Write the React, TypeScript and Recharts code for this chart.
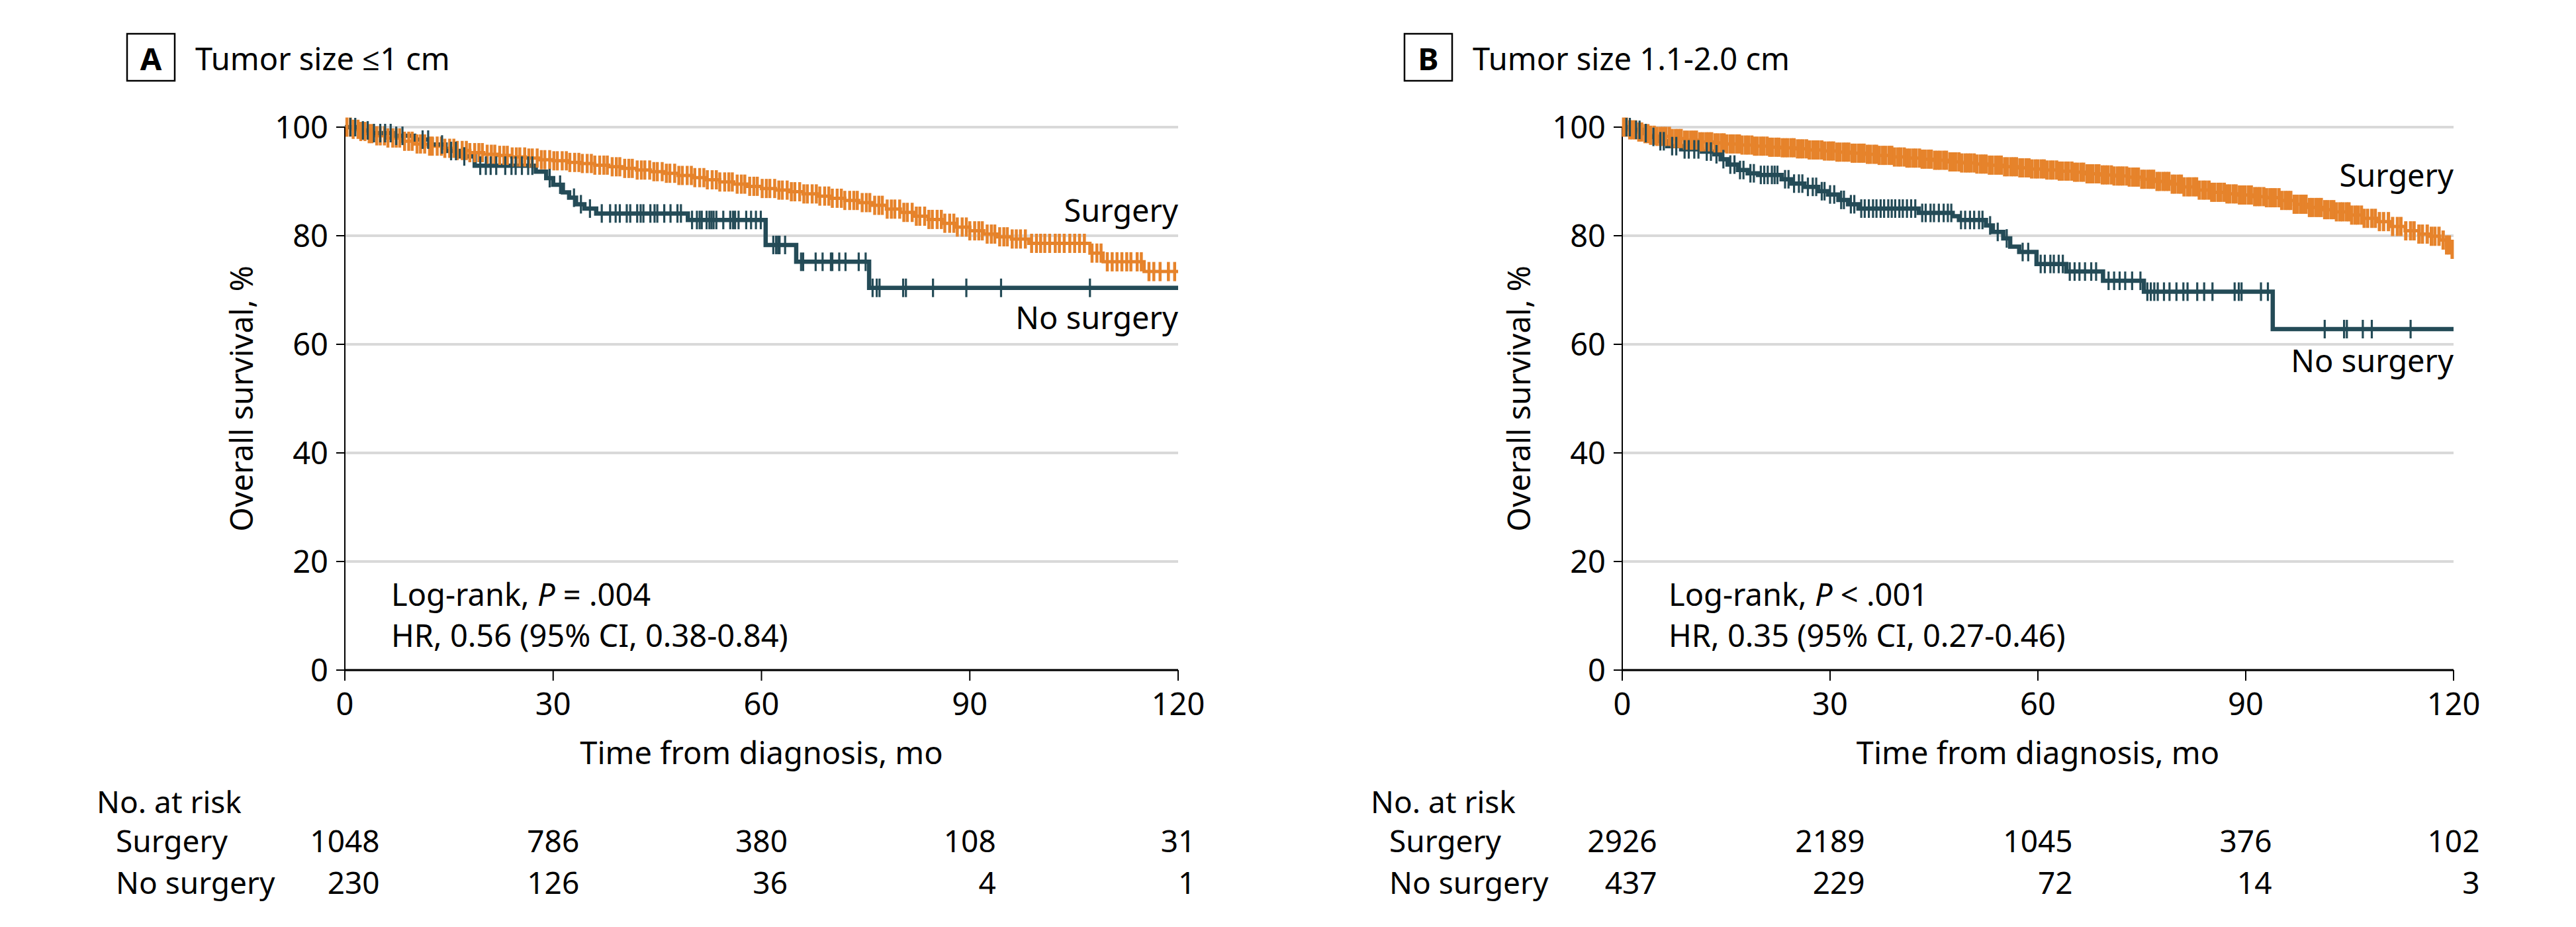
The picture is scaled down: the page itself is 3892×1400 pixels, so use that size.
import { LineChart, Line, XAxis, YAxis, CartesianGrid } from 'recharts';

const FONT = "'Noto Sans', 'Open Sans', sans-serif";
const ORANGE = '#E6832B';
const NAVY = '#244B57';
const GRID = '#D9D9D9';

const TICKS_X = [0, 30, 60, 90, 120];
const TICKS_Y = [0, 20, 40, 60, 80, 100];

type Step = [number, number];

// ---- Panel A: tumor size <=1 cm ----
const surgeryStepsA: Step[] = [
  [0, 100], [1, 99.6], [2, 99.2], [3, 98.8], [4.5, 98.4], [6, 98.0], [8, 97.4], [10, 96.9], [12, 96.5],
  [14, 96.1], [16, 95.7], [18, 95.3], [20, 95.0], [22, 94.8], [24, 94.5], [26, 94.3], [28, 94.0],
  [30, 93.8], [32, 93.5], [34, 93.3], [36, 93.0], [38, 92.7], [40, 92.4], [42, 92.1], [44, 91.8],
  [46, 91.5], [48, 91.1], [50, 90.7], [52, 90.3], [54, 89.9], [56, 89.5], [58, 89.1], [60, 88.7],
  [62, 88.4], [64, 88.1], [66, 87.7], [68, 87.3], [70, 86.9], [72, 86.5], [74, 86.1], [76, 85.6],
  [78, 84.9], [80, 84.3], [82, 83.6], [84, 83.0], [86, 82.3], [88, 81.6], [90, 80.9], [92, 80.3],
  [94, 79.8], [96, 79.4], [98.5, 78.6], [107.3, 76.8], [109.2, 75.2], [115.1, 73.4], [120, 73.4],
];
const surgeryCensorA = [
  0.3, 0.8, 1.2, 1.9, 2.3, 2.9, 3.5, 3.9, 4.6, 5.1, 5.7, 6.2, 6.9, 7.4, 7.9, 8.6, 9.2, 9.7, 10.4, 10.9,
  11.5, 12.2, 12.6, 13.3, 13.9, 14.4, 15.1, 15.7, 16.2, 16.9, 17.5, 18.0, 18.7, 19.3, 19.8, 20.5, 21.1,
  21.6, 22.3, 22.9, 23.4, 24.1, 24.7, 25.2, 25.9, 26.5, 27.0, 27.7, 28.3, 28.8, 29.5, 30.1, 30.6, 31.3,
  31.9, 32.4, 33.1, 33.7, 34.2, 34.9, 35.5, 36.0, 36.7, 37.3, 37.8, 38.5, 39.1, 39.6, 40.3, 40.9, 41.4,
  42.1, 42.7, 43.2, 43.9, 44.5, 45.0, 45.7, 46.3, 46.8, 47.5, 48.1, 48.6, 49.3, 49.9, 50.4, 51.1, 51.7,
  52.2, 52.9, 53.5, 54.0, 54.7, 55.3, 55.8, 56.5, 57.1, 57.6, 58.3, 58.9, 59.4, 60.1, 60.7, 61.2, 61.9,
  62.5, 63.0, 63.7, 64.3, 64.8, 65.5, 66.1, 66.6, 67.3, 67.9, 68.4, 69.1, 69.7, 70.2, 70.9, 71.5, 72.0,
  72.7, 73.3, 73.8, 74.5, 75.1, 75.6, 76.3, 76.9, 77.4, 78.1, 78.7, 79.2, 79.9, 80.5, 81.0, 81.7, 82.3,
  82.8, 83.5, 84.1, 84.6, 85.3, 85.9, 86.4, 87.1, 87.7, 88.2, 88.9, 89.5, 90.0, 90.7, 91.3, 91.8, 92.5,
  93.1, 93.6, 94.3, 94.9, 95.4, 96.1, 96.7, 97.3, 98.0, 98.9, 99.6, 100.2, 100.8, 101.5, 102.3, 102.9,
  103.6, 104.4, 105.1, 105.8, 106.5, 107.6, 108.3, 108.9, 109.8, 110.5, 111.2, 111.9, 112.6, 113.2,
  114.1, 114.7, 115.8, 116.5, 117.4, 118.6, 119.5,
];
const noSurgeryStepsA: Step[] = [
  [0, 100], [2, 99.4], [4, 98.9], [7, 98.4], [10, 97.7], [12.5, 96.8], [14.5, 95.6], [16.5, 94.6],
  [18.7, 92.9], [27.5, 91.8], [29, 90.6], [30, 89.4], [31.4, 88.0], [32.3, 87.0], [33.3, 85.8],
  [34.5, 85.0], [36.2, 84.1], [49.4, 82.9], [60.6, 78.3], [65, 75.2], [75.5, 70.4], [120, 70.4],
];
const noSurgeryCensorA = [
  0.8, 1.5, 2.6, 3.3, 4.2, 5.1, 5.8, 6.6, 7.4, 8.3, 11.2, 12.0, 14.0, 15.3, 16.0, 17.2, 19.5, 20.3,
  21.0, 21.8, 23.1, 24.0, 24.6, 25.5, 26.4, 27.0, 29.5, 31.0, 33.0, 34.0, 35.3, 37.0, 38.2, 39.0, 39.6,
  40.6, 41.1, 42.1, 42.6, 43.0, 44.0, 44.6, 45.0, 46.0, 46.9, 47.9, 48.4, 50.0, 50.7, 51.1, 51.4, 52.1,
  52.5, 52.8, 53.1, 53.5, 54.5, 55.5, 55.9, 56.2, 56.7, 57.8, 58.5, 59.2, 59.9, 61.7, 62.1, 62.4, 62.6,
  63.4, 65.7, 66.0, 67.8, 68.8, 70.0, 70.2, 71.2, 72.1, 74.0, 75.0, 76.0, 76.6, 77.0, 80.4, 80.8, 84.7,
  89.5, 94.5, 107.3,
];
const riskSurgeryA = [1048, 786, 380, 108, 31];
const riskNoSurgeryA = [230, 126, 36, 4, 1];

// ---- Panel B: tumor size 1.1-2.0 cm ----
const surgeryStepsB: Step[] = [
  [0, 100], [1, 99.5], [2, 99.1], [3, 98.8], [4, 98.5], [5, 98.3], [7, 97.9], [9, 97.6], [11, 97.3],
  [13, 97.1], [15, 96.9], [17, 96.7], [19, 96.5], [21, 96.3], [23, 96.2], [25, 96.0], [27, 95.8],
  [29, 95.6], [31, 95.4], [33, 95.2], [35, 95.0], [37, 94.8], [39, 94.5], [41, 94.3], [43, 94.1],
  [45, 93.9], [47, 93.6], [49, 93.4], [51, 93.2], [53, 93.0], [55, 92.7], [57, 92.5], [59, 92.3],
  [61, 92.1], [63, 91.9], [65, 91.7], [67, 91.4], [69, 91.2], [71, 91.0], [73, 90.8], [75, 90.4],
  [77, 90.0], [79, 89.5], [81, 89.0], [83, 88.4], [85, 88.0], [87, 87.7], [89, 87.5], [91, 87.2],
  [93, 87.0], [95, 86.5], [97, 85.8], [99, 85.2], [101, 84.8], [103, 84.4], [105, 83.8], [107, 83.2],
  [109, 82.6], [111, 81.7], [113, 80.9], [115, 80.3], [116.5, 79.9], [118, 79.2], [119, 78.3],
  [119.6, 77.5], [120, 77.5],
];
const surgeryCensorB = [
  0.2, 0.6, 1.1, 1.5, 1.9, 2.4, 2.8, 3.3, 3.7, 4.1, 4.6, 5.0, 5.5, 5.9, 6.3, 6.8, 7.2, 7.7, 8.1, 8.5,
  9.0, 9.4, 9.9, 10.3, 10.7, 11.2, 11.6, 12.1, 12.5, 12.9, 13.4, 13.8, 14.3, 14.7, 15.1, 15.6, 16.0,
  16.5, 16.9, 17.3, 17.8, 18.2, 18.7, 19.1, 19.5, 20.0, 20.4, 20.9, 21.3, 21.7, 22.2, 22.6, 23.1, 23.5,
  23.9, 24.4, 24.8, 25.3, 25.7, 26.1, 26.6, 27.0, 27.5, 27.9, 28.3, 28.8, 29.2, 29.7, 30.1, 30.5, 31.0,
  31.4, 31.9, 32.3, 32.7, 33.2, 33.6, 34.1, 34.5, 34.9, 35.4, 35.8, 36.3, 36.7, 37.1, 37.6, 38.0, 38.5,
  38.9, 39.3, 39.8, 40.2, 40.7, 41.1, 41.5, 42.0, 42.4, 42.9, 43.3, 43.7, 44.2, 44.6, 45.1, 45.5, 45.9,
  46.4, 46.8, 47.3, 47.7, 48.1, 48.6, 49.0, 49.5, 49.9, 50.3, 50.8, 51.2, 51.7, 52.1, 52.5, 53.0, 53.4,
  53.9, 54.3, 54.7, 55.2, 55.6, 56.1, 56.5, 56.9, 57.4, 57.8, 58.3, 58.7, 59.1, 59.6, 60.0, 60.5, 60.9,
  61.3, 61.8, 62.2, 62.7, 63.1, 63.5, 64.0, 64.4, 64.9, 65.3, 65.7, 66.2, 66.6, 67.1, 67.5, 67.9, 68.4,
  68.8, 69.3, 69.7, 70.1, 70.6, 71.0, 71.5, 71.9, 72.3, 72.8, 73.2, 73.7, 74.1, 74.5, 75.0, 75.4, 75.9,
  76.3, 76.7, 77.2, 77.6, 78.1, 78.5, 78.9, 79.4, 79.8, 80.3, 80.7, 81.1, 81.6, 82.0, 82.5, 82.9, 83.3,
  83.8, 84.2, 84.7, 85.1, 85.5, 86.0, 86.4, 86.9, 87.3, 87.7, 88.2, 88.6, 89.1, 89.5, 89.9, 90.4, 90.8,
  91.3, 91.7, 92.1, 92.6, 93.0, 93.5, 93.9, 94.3, 94.8, 95.2, 95.7, 96.1, 96.5, 97.0, 97.4, 97.9, 98.3,
  98.7, 99.2, 99.6, 100.1, 100.5, 100.9, 101.4, 101.8, 102.3, 102.7, 103.1, 103.6, 104.0, 104.5, 104.9,
  105.3, 105.8, 106.2, 106.7, 107.1, 107.6, 108.2, 108.7, 109.3, 109.9, 110.6, 111.2, 111.9, 112.4,
  113.1, 113.8, 114.3, 115.0, 115.5, 116.2, 116.8, 117.3, 117.9, 118.5, 119.0, 119.4, 119.8,
];
const noSurgeryStepsB: Step[] = [
  [0, 100], [1.5, 99.5], [3, 98.9], [4, 98.2], [5, 97.4], [6.5, 96.5], [8.5, 95.9], [11.5, 95.5],
  [13.3, 95.0], [14.2, 94.1], [15.2, 93.1], [16.7, 92.1], [18.1, 91.5], [19.6, 91.2], [23, 90.4],
  [24.4, 89.6], [26.3, 89.0], [28.3, 88.2], [29.7, 87.6], [31.2, 86.6], [32.6, 85.8], [34.1, 85.0],
  [42.8, 84.2], [47.7, 83.6], [48.6, 82.9], [52.5, 81.9], [53.5, 80.7], [55, 79.5], [56, 78.0],
  [57.3, 77.0], [59.8, 74.8], [64.1, 73.4], [69.4, 71.7], [75.3, 69.7], [93.9, 62.8], [120, 62.8],
];
const noSurgeryCensorB = [
  0.6, 1.1, 2.0, 2.5, 3.4, 4.5, 5.5, 6.0, 7.2, 7.8, 9.0, 9.6, 10.4, 11.0, 12.2, 12.8, 13.6, 14.6, 15.6,
  16.2, 17.0, 17.5, 18.5, 19.0, 20.0, 20.5, 21.0, 21.6, 22.0, 22.4, 23.5, 24.0, 24.8, 25.5, 26.0, 26.8,
  27.5, 28.0, 28.8, 29.2, 30.0, 30.6, 31.6, 32.0, 33.0, 33.5, 34.5, 35.0, 35.6, 36.2, 36.7, 37.3, 37.8,
  38.4, 38.9, 39.4, 40.0, 40.5, 41.1, 41.7, 42.3, 43.3, 43.8, 44.5, 45.0, 45.7, 46.4, 47.0, 47.5, 48.9,
  49.5, 50.2, 50.8, 51.5, 52.0, 53.1, 54.2, 55.5, 57.8, 58.6, 60.4, 61.0, 61.8, 62.3, 63.0, 63.6, 64.6,
  65.3, 66.0, 66.8, 67.7, 68.4, 70.2, 71.0, 71.8, 72.6, 73.6, 74.8, 75.8, 76.3, 76.8, 77.3, 78.2, 79.0,
  80.0, 81.0, 81.6, 83.0, 84.0, 85.2, 88.4, 89.0, 89.4, 92.2, 93.2, 101.4, 104.2, 104.6, 106.9, 108.2,
  113.8,
];
const riskSurgeryB = [2926, 2189, 1045, 376, 102];
const riskNoSurgeryB = [437, 229, 72, 14, 3];

// ---- layout ----
const CHART_W = 1946;
const CHART_H = 1400;
const PLOT_TOP = 192;
const PLOT_BOTTOM = 1012;
const Y_AXIS_W = 120;
const X_AXIS_H = 60;
const FS = 47;
const RISK_FS = 46;

type Pt = { t: number; s: number; c: number };

function buildSeries(steps: Step[], censored: number[]): Pt[] {
  const levelAt = (t: number) => {
    let s = steps[0][1];
    for (const [st, sv] of steps) {
      if (st <= t) s = sv;
      else break;
    }
    return s;
  };
  const pts: Pt[] = [
    ...steps.map(([t, s]) => ({ t, s, c: 0 })),
    ...censored.map((t) => ({ t, s: levelAt(t), c: 1 })),
  ];
  pts.sort((a, b) => a.t - b.t || a.c - b.c);
  return pts;
}

// vertical tick for each censored patient
const censorDot = (color: string, w: number, h: number) => (props: any) => {
  const { cx, cy, payload, index } = props;
  if (!payload || !payload.c || cx == null || cy == null) return <g key={`d-${index}`} />;
  return (
    <line key={`d-${index}`} x1={cx} x2={cx} y1={cy - h} y2={cy + h} stroke={color} strokeWidth={w} />
  );
};

function XTick(props: any) {
  const { x, y, payload, riskS, riskN } = props;
  const i = TICKS_X.indexOf(payload.value);
  // no-surgery counts are right aligned under the surgery counts
  const half = (String(riskS[i]).length * 0.572 * RISK_FS) / 2;
  return (
    <g>
      <text x={x} y={y + 52} textAnchor="middle" fontSize={FS} fill="#000">{payload.value}</text>
      <text x={x + half} y={y + 259} textAnchor="end" fontSize={RISK_FS} fill="#000">{riskS[i]}</text>
      <text x={x + half} y={y + 322} textAnchor="end" fontSize={RISK_FS} fill="#000">{riskN[i]}</text>
    </g>
  );
}

interface PanelProps {
  chartLeft: number;
  plotLeft: number;
  plotRight: number;
  surgery: Pt[];
  noSurgery: Pt[];
  riskS: number[];
  riskN: number[];
  orangeTickW: number;
}

function KMChart({ chartLeft, plotLeft, plotRight, surgery, noSurgery, riskS, riskN, orangeTickW }: PanelProps) {
  const localLeft = plotLeft - chartLeft;
  const localRight = plotRight - chartLeft;
  return (
    <div style={{ position: 'absolute', left: chartLeft, top: 0 }}>
      <LineChart
        width={CHART_W}
        height={CHART_H}
        margin={{
          top: PLOT_TOP,
          bottom: CHART_H - PLOT_BOTTOM - X_AXIS_H,
          left: localLeft - Y_AXIS_W,
          right: CHART_W - localRight,
        }}
      >
        <CartesianGrid vertical={false} stroke={GRID} strokeWidth={4} />
        <XAxis
          type="number"
          dataKey="t"
          domain={[0, 120]}
          ticks={TICKS_X}
          interval={0}
          height={X_AXIS_H}
          tickSize={16}
          tickMargin={0}
          axisLine={{ stroke: '#000', strokeWidth: 3 }}
          tickLine={{ stroke: '#000', strokeWidth: 2 }}
          tick={(p: any) => <XTick {...p} riskS={riskS} riskN={riskN} />}
        />
        <YAxis
          type="number"
          domain={[0, 100]}
          ticks={TICKS_Y}
          interval={0}
          width={Y_AXIS_W}
          tickSize={13}
          tickMargin={12}
          axisLine={{ stroke: '#000', strokeWidth: 2 }}
          tickLine={{ stroke: '#000', strokeWidth: 2 }}
          tick={{ fontSize: FS, fill: '#000' }}
        />
        <Line
          data={surgery}
          dataKey="s"
          type="stepAfter"
          stroke={ORANGE}
          strokeWidth={5}
          dot={censorDot(ORANGE, orangeTickW, 14.5)}
          activeDot={false}
          isAnimationActive={false}
        />
        <Line
          data={noSurgery}
          dataKey="s"
          type="stepAfter"
          stroke={NAVY}
          strokeWidth={6.5}
          dot={censorDot(NAVY, 3.2, 14)}
          activeDot={false}
          isAnimationActive={false}
        />
      </LineChart>
    </div>
  );
}

interface TextProps {
  plotLeft: number;
  plotRight: number;
  letter: string;
  title: string;
  pOp: string;
  pVal: string;
  hr: string;
  surgeryY: number;
  noSurgeryY: number;
  riskHeadX: number;
  riskRowX: number;
}

function PanelText({ plotLeft, plotRight, letter, title, pOp, pVal, hr, surgeryY, noSurgeryY, riskHeadX, riskRowX }: TextProps) {
  const boxX = plotLeft - 329;
  const ylx = plotLeft - 139;
  const yMid = (PLOT_TOP + PLOT_BOTTOM) / 2;
  return (
    <g fontSize={FS} fill="#000">
      <rect x={boxX} y={51} width={72} height={71} fill="none" stroke="#000" strokeWidth={2.5} />
      <text x={boxX + 36} y={106} textAnchor="middle" fontWeight="bold">{letter}</text>
      <text x={plotLeft - 226} y={106}>{title}</text>
      <text x={ylx} y={yMid} textAnchor="middle" transform={`rotate(-90, ${ylx}, ${yMid})`}>
        Overall survival, %
      </text>
      <text x={plotLeft + 70} y={915}>
        Log-rank, <tspan fontStyle="italic">P</tspan> {pOp} {pVal}
      </text>
      <text x={plotLeft + 70} y={977}>{hr}</text>
      <text x={plotRight} y={surgeryY} textAnchor="end">Surgery</text>
      <text x={plotRight} y={noSurgeryY} textAnchor="end">No surgery</text>
      <text x={(plotLeft + plotRight) / 2} y={1154} textAnchor="middle">Time from diagnosis, mo</text>
      <text x={riskHeadX} y={1228} fontSize={RISK_FS}>No. at risk</text>
      <text x={riskRowX} y={1287} fontSize={RISK_FS}>Surgery</text>
      <text x={riskRowX} y={1350} fontSize={RISK_FS}>No surgery</text>
    </g>
  );
}

export default function App() {
  const surgeryA = buildSeries(surgeryStepsA, surgeryCensorA);
  const noSurgeryA = buildSeries(noSurgeryStepsA, noSurgeryCensorA);
  const surgeryB = buildSeries(surgeryStepsB, surgeryCensorB);
  const noSurgeryB = buildSeries(noSurgeryStepsB, noSurgeryCensorB);

  return (
    <div
      style={{
        position: 'absolute',
        left: 0,
        top: 0,
        width: 3892,
        height: 1400,
        background: '#fff',
        fontFamily: FONT,
        overflow: 'hidden',
      }}
    >
      <KMChart chartLeft={0} plotLeft={521} plotRight={1780} surgery={surgeryA} noSurgery={noSurgeryA} riskS={riskSurgeryA} riskN={riskNoSurgeryA} orangeTickW={4.5} />
      <KMChart chartLeft={1946} plotLeft={2451} plotRight={3707} surgery={surgeryB} noSurgery={noSurgeryB} riskS={riskSurgeryB} riskN={riskNoSurgeryB} orangeTickW={5} />
      <svg width={3892} height={1400} style={{ position: 'absolute', left: 0, top: 0, pointerEvents: 'none' }}>
        <PanelText
          plotLeft={521}
          plotRight={1780}
          letter="A"
          title="Tumor size ≤1 cm"
          pOp="="
          pVal=".004"
          hr="HR, 0.56 (95% CI, 0.38-0.84)"
          surgeryY={335}
          noSurgeryY={497}
          riskHeadX={146}
          riskRowX={175}
        />
        <PanelText
          plotLeft={2451}
          plotRight={3707}
          letter="B"
          title="Tumor size 1.1-2.0 cm"
          pOp="<"
          pVal=".001"
          hr="HR, 0.35 (95% CI, 0.27-0.46)"
          surgeryY={282}
          noSurgeryY={562}
          riskHeadX={2071}
          riskRowX={2099}
        />
      </svg>
    </div>
  );
}
